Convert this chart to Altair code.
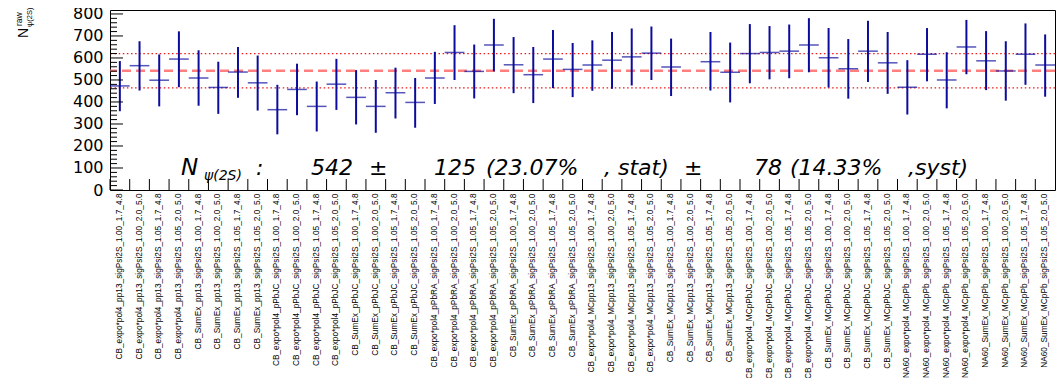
import altair as alt
import pandas as pd

# ---------------- data ----------------
categories = [
    "CB_expo*pol4_pp13_sigPsi2S_1.00_1.7_4.8", "CB_expo*pol4_pp13_sigPsi2S_1.00_2.0_5.0",
    "CB_expo*pol4_pp13_sigPsi2S_1.05_1.7_4.8", "CB_expo*pol4_pp13_sigPsi2S_1.05_2.0_5.0",
    "CB_SumEx_pp13_sigPsi2S_1.00_1.7_4.8", "CB_SumEx_pp13_sigPsi2S_1.00_2.0_5.0",
    "CB_SumEx_pp13_sigPsi2S_1.05_1.7_4.8", "CB_SumEx_pp13_sigPsi2S_1.05_2.0_5.0",
    "CB_expo*pol4_pPbJC_sigPsi2S_1.00_1.7_4.8", "CB_expo*pol4_pPbJC_sigPsi2S_1.00_2.0_5.0",
    "CB_expo*pol4_pPbJC_sigPsi2S_1.05_1.7_4.8", "CB_expo*pol4_pPbJC_sigPsi2S_1.05_2.0_5.0",
    "CB_SumEx_pPbJC_sigPsi2S_1.00_1.7_4.8", "CB_SumEx_pPbJC_sigPsi2S_1.00_2.0_5.0",
    "CB_SumEx_pPbJC_sigPsi2S_1.05_1.7_4.8", "CB_SumEx_pPbJC_sigPsi2S_1.05_2.0_5.0",
    "CB_expo*pol4_pPbRA_sigPsi2S_1.00_1.7_4.8", "CB_expo*pol4_pPbRA_sigPsi2S_1.00_2.0_5.0",
    "CB_expo*pol4_pPbRA_sigPsi2S_1.05_1.7_4.8", "CB_expo*pol4_pPbRA_sigPsi2S_1.05_2.0_5.0",
    "CB_SumEx_pPbRA_sigPsi2S_1.00_1.7_4.8", "CB_SumEx_pPbRA_sigPsi2S_1.00_2.0_5.0",
    "CB_SumEx_pPbRA_sigPsi2S_1.05_1.7_4.8", "CB_SumEx_pPbRA_sigPsi2S_1.05_2.0_5.0",
    "CB_expo*pol4_MCpp13_sigPsi2S_1.00_1.7_4.8", "CB_expo*pol4_MCpp13_sigPsi2S_1.00_2.0_5.0",
    "CB_expo*pol4_MCpp13_sigPsi2S_1.05_1.7_4.8", "CB_expo*pol4_MCpp13_sigPsi2S_1.05_2.0_5.0",
    "CB_SumEx_MCpp13_sigPsi2S_1.00_1.7_4.8", "CB_SumEx_MCpp13_sigPsi2S_1.00_2.0_5.0",
    "CB_SumEx_MCpp13_sigPsi2S_1.05_1.7_4.8", "CB_SumEx_MCpp13_sigPsi2S_1.05_2.0_5.0",
    "CB_expo*pol4_MCpPbJC_sigPsi2S_1.00_1.7_4.8", "CB_expo*pol4_MCpPbJC_sigPsi2S_1.00_2.0_5.0",
    "CB_expo*pol4_MCpPbJC_sigPsi2S_1.05_1.7_4.8", "CB_expo*pol4_MCpPbJC_sigPsi2S_1.05_2.0_5.0",
    "CB_SumEx_MCpPbJC_sigPsi2S_1.00_1.7_4.8", "CB_SumEx_MCpPbJC_sigPsi2S_1.00_2.0_5.0",
    "CB_SumEx_MCpPbJC_sigPsi2S_1.05_1.7_4.8", "CB_SumEx_MCpPbJC_sigPsi2S_1.05_2.0_5.0",
    "NA60_expo*pol4_MCpPb_sigPsi2S_1.00_1.7_4.8", "NA60_expo*pol4_MCpPb_sigPsi2S_1.00_2.0_5.0",
    "NA60_expo*pol4_MCpPb_sigPsi2S_1.05_1.7_4.8", "NA60_expo*pol4_MCpPb_sigPsi2S_1.05_2.0_5.0",
    "NA60_SumEx_MCpPb_sigPsi2S_1.00_1.7_4.8", "NA60_SumEx_MCpPb_sigPsi2S_1.00_2.0_5.0",
    "NA60_SumEx_MCpPb_sigPsi2S_1.05_1.7_4.8", "NA60_SumEx_MCpPb_sigPsi2S_1.05_2.0_5.0",
]

n_raw = [473, 565, 499, 595, 509, 466, 536, 487, 365, 457, 380, 481,
         421, 380, 442, 398, 509, 625, 539, 659, 569, 524, 595, 548,
         568, 590, 605, 622, 559, None, 583, 535, 620, 625, 631, 659,
         601, 551, 631, 578, 467, 617, 500, 650, 587, 541, 617, 568]
n_upper = [586, 676, 616, 721, 635, 583, 650, 611, 478, 574, 493, 596,
           545, 500, 556, 509, 628, 749, 661, 778, 695, 650, 727, 668,
           680, 718, 734, 743, 688, None, 718, 670, 754, 745, 752, 781,
           736, 686, 769, 718, 590, 736, 626, 773, 722, 676, 757, 707]
n_lower = [358, 452, 380, 467, 383, 346, 419, 361, 253, 340, 266, 364,
           298, 260, 325, 283, 391, 500, 416, 539, 440, 395, 463, 422,
           451, 460, 475, 500, 427, None, 452, 398, 485, 503, 508, 535,
           466, 415, 491, 437, 343, 494, 371, 526, 454, 406, 478, 424]

mean_val = 542
stat_err = 125
stat_pct = "23.07%"
syst_err = 78
syst_pct = "14.33%"

y_major = [0, 100, 200, 300, 400, 500, 600, 700, 800]
y_minor = [v + d for v in y_major[:-1] for d in (20, 40, 60, 80)]

# ---------------- layout / style ----------------
W, H = 945, 180
YMAX = 818
BLUE = "#0c0c9c"
LABEL_FONT = "Liberation Sans"

df = pd.DataFrame({"cat": categories, "val": n_raw, "lo": n_lower, "hi": n_upper})
yscale = alt.Scale(domain=[0, YMAX], nice=False, zero=False)
y_axis = alt.Axis(values=y_major, labelFont="DejaVu Sans", labelFontSize=16,
                  labelColor="black", ticks=False, domain=False, grid=False,
                  labelPadding=7, labelOverlap=False, title=None)
x_axis = alt.Axis(labelAngle=270, labelFont=LABEL_FONT, labelFontSize=8.3,
                  labelColor="black", ticks=False, domain=False, grid=False,
                  labelPadding=3, labelLimit=400, labelOverlap=False, title=None)
x_scale = alt.Scale(paddingInner=0, paddingOuter=0)


def Y(field):
    return alt.Y(field, scale=yscale, axis=y_axis, title=None)


def X(**kw):
    return alt.X("cat:N", sort=categories, title=None, scale=x_scale, axis=x_axis, **kw)


base = alt.Chart(df)

err = base.mark_rule(color=BLUE, strokeWidth=2).encode(
    x=X(), y=Y("lo:Q"), y2="hi:Q",
)
bars = base.mark_tick(color=BLUE, thickness=1.5, size=W / len(categories),
                      orient="horizontal").encode(
    x=X(), y=Y("val:Q"),
)
xticks = base.mark_rule(color="black", strokeWidth=1).encode(
    x=X(bandPosition=0),
    y=alt.value(H), y2=alt.value(H - 11),
)

ymaj = alt.Chart(pd.DataFrame({"v": y_major})).mark_rule(color="black", strokeWidth=1).encode(
    y=Y("v:Q"), x=alt.value(0), x2=alt.value(13))
ymin = alt.Chart(pd.DataFrame({"v": y_minor})).mark_rule(color="black", strokeWidth=1).encode(
    y=Y("v:Q"), x=alt.value(0), x2=alt.value(7))

mean_line = alt.Chart(pd.DataFrame({"v": [mean_val]})).mark_rule(
    color="#ff7f7f", strokeWidth=2.5, strokeDash=[9, 5]).encode(y=Y("v:Q"))
syst_lines = alt.Chart(pd.DataFrame({"v": [mean_val + syst_err, mean_val - syst_err]})).mark_rule(
    color="#f01818", strokeWidth=1.3, strokeDash=[1.5, 2.6]).encode(y=Y("v:Q"))


def txt(s, px, py, size, angle=0, italic=False, font="DejaVu Sans"):
    kw = dict(align="left", baseline="alphabetic", fontSize=size, font=font,
              color="black", angle=angle)
    if italic:
        kw["fontStyle"] = "italic"
    return alt.Chart(pd.DataFrame({"t": [s]})).mark_text(**kw).encode(
        text="t:N", x=alt.value(px), y=alt.value(py))


ox, oy = 110, 10  # page position of the plot origin
base_y = 175 - oy
FS = 22
texts = [
    txt("N", 181 - ox, base_y, FS + 1, italic=True),
    txt("ψ(2S)", 204 - ox, 180 - oy, 14, italic=True),
    txt(":", 256 - ox, base_y, FS, italic=True),
    txt(f"{mean_val}", 311 - ox, base_y, FS, italic=True),
    txt("±", 369 - ox, base_y, FS, italic=True),
    txt(f"{stat_err}", 434 - ox, base_y, FS, italic=True),
    txt(f"({stat_pct}", 486 - ox, base_y, FS, italic=True),
    txt(",", 604 - ox, base_y, FS, italic=True),
    txt("stat)", 618 - ox, base_y, FS, italic=True),
    txt("±", 684 - ox, base_y, FS, italic=True),
    txt(f"{syst_err}", 754 - ox, base_y, FS, italic=True),
    txt(f"({syst_pct}", 790 - ox, base_y, FS, italic=True),
    txt(",syst)", 908 - ox, base_y, FS, italic=True),
    # y-axis title  N^raw_psi(2S)
    txt("N", 28 - ox, 38 - oy, 14, angle=270, font="Liberation Sans"),
    txt("raw", 22 - ox, 26 - oy, 8.5, angle=270, font="Liberation Sans"),
    txt("ψ(2S)", 32 - ox, 27 - oy, 7.5, angle=270, font="Liberation Sans"),
]

chart = alt.layer(mean_line, syst_lines, err, bars, xticks, ymaj, ymin, *texts).properties(
    width=W, height=H,
    padding={"left": 102, "top": 2, "right": 1, "bottom": 188},
    autosize=alt.AutoSizeParams(type="none"),
    background="white",
).configure_view(stroke="black", strokeWidth=1).configure_axisY(
    labelOverlap=False
).configure_axisX(labelOverlap=False)

chart.save("out.html", embed_options={"renderer": "svg", "actions": False})
